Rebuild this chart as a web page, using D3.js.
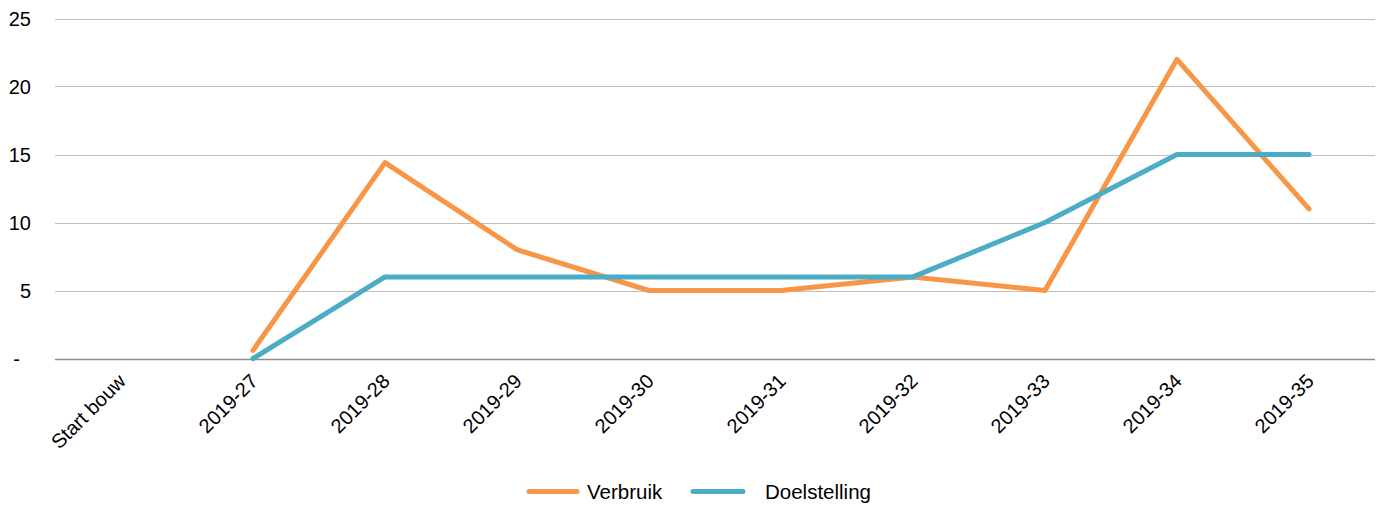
<!DOCTYPE html>
<html>
<head>
<script src="https://d3js.org/d3.v7.min.js"></script>
<style>
  body { margin: 0; background: #fff; }
  text { font-family: "Liberation Sans", Arial, sans-serif; fill: #000; }
</style>
</head>
<body>
<svg id="chart" width="1384" height="509"></svg>
<script>
const categories = ["Start bouw", "2019-27", "2019-28", "2019-29", "2019-30", "2019-31", "2019-32", "2019-33", "2019-34", "2019-35"];
const verbruik = [null, 0.6, 14.4, 8, 5, 5, 6, 5, 22, 11];
const doelstelling = [null, 0, 6, 6, 6, 6, 6, 10, 15, 15];
const yTicks = [0, 5, 10, 15, 20, 25];

const svg = d3.select("#chart");
const plotL = 55, plotR = 1375, plotT = 18.5, plotB = 358.5;

const x = d3.scalePoint().domain(categories).range([plotL, plotR]).padding(0.5);
const y = d3.scaleLinear().domain([0, 25]).range([plotB, plotT]);

// gridlines
svg.append("g").selectAll("line").data(yTicks).join("line")
    .attr("x1", plotL).attr("x2", plotR)
    .attr("y1", d => Math.round(y(d)) + 0.5).attr("y2", d => Math.round(y(d)) + 0.5)
    .attr("stroke", d => d === 0 ? "#8c8c8c" : "#bfbfbf")
    .attr("stroke-width", d => d === 0 ? 1.5 : 1);

// y labels
svg.append("g").selectAll("text").data(yTicks).join("text")
    .attr("x", d => d === 0 ? 20 : 31).attr("y", d => y(d) + 7.5)
    .attr("text-anchor", "end")
    .style("font-size", "20px")
    .text(d => d === 0 ? "-" : d);

// x labels
svg.append("g").selectAll("text").data(categories).join("text")
    .attr("transform", d => `translate(${x(d) + 6},${plotB + 24}) rotate(-45)`)
    .attr("text-anchor", "end")
    .style("font-size", "20px")
    .text(d => d);

const series = [
    { name: "Verbruik", values: verbruik, color: "#F79646" },
    { name: "Doelstelling", values: doelstelling, color: "#4BACC6" }
];

const line = d3.line()
    .defined(d => d.v !== null)
    .x(d => x(d.c))
    .y(d => y(d.v));

series.forEach(s => {
    svg.append("path")
        .datum(categories.map((c, i) => ({ c: c, v: s.values[i] })))
        .attr("fill", "none")
        .attr("stroke", s.color)
        .attr("stroke-width", 5)
        .attr("stroke-linejoin", "round")
        .attr("stroke-linecap", "round")
        .attr("d", line);
});

// legend
const legend = [
    { name: "Verbruik", color: "#F79646", x1: 529, x2: 577, tx: 587 },
    { name: "Doelstelling", color: "#4BACC6", x1: 693, x2: 743, tx: 765 }
];
const lg = svg.append("g");
legend.forEach(l => {
    lg.append("line").attr("x1", l.x1).attr("x2", l.x2).attr("y1", 491.5).attr("y2", 491.5)
        .attr("stroke", l.color).attr("stroke-width", 5).attr("stroke-linecap", "round");
    lg.append("text").attr("x", l.tx).attr("y", 499).style("font-size", "20.5px").text(l.name);
});
</script>
</body>
</html>
